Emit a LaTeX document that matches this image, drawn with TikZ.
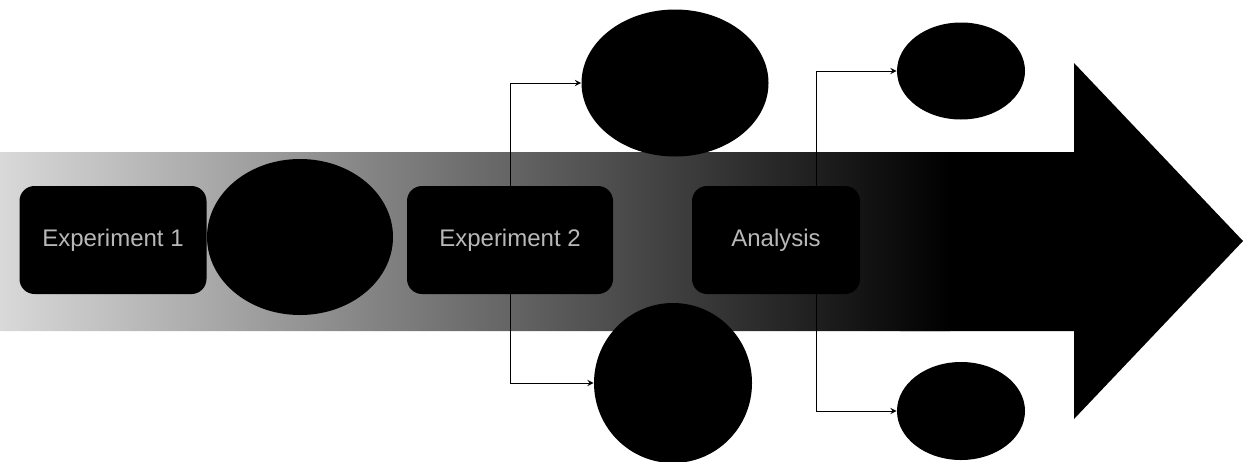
\documentclass[tikz,border=0pt]{standalone}
\usepackage{fontspec}
\setmainfont{Liberation Sans}
\usetikzlibrary{shapes.geometric}
\begin{document}
\begin{tikzpicture}[>=stealth, x=0.5pt, y=-0.5pt,
  stagebox/.style={fill=black, rounded corners=7.5pt, minimum width=#1, minimum height=54pt, inner sep=0pt, text=white!72!black, font=\fontsize{12}{14}\selectfont},
  blob/.style 2 args={fill=black, ellipse, minimum width=#1, minimum height=#2, inner sep=0pt}]
\useasboundingbox (0,0) rectangle (1245,461);
\begin{scope}
\clip (0,152)--(1074,152)--(1074,63)--(1243,241)--(1074,419)--(1074,331)--(0,331)--cycle;
\fill (900,40) rectangle (1245,440);
\path[left color=white!85!black, middle color=black!50, right color=black] (0,140) rectangle (950,343);
\end{scope}
\node[stagebox=93.5pt] (exp1) at (113,240) {Experiment 1};
\node[blob={93pt}{78pt}] (res1) at (300,237) {};
\node[stagebox=103pt] (exp2) at (510,240) {Experiment 2};
\node[stagebox=84pt] (ana) at (776,240) {Analysis};
\node[blob={93.5pt}{73.5pt}] (top1) at (675,83) {};
\node[blob={79pt}{80pt}] (bot1) at (673,383) {};
\node[blob={64pt}{48.5pt}] (top2) at (961,71) {};
\node[blob={64pt}{49pt}] (bot2) at (961,411) {};
\draw[->] (exp2.north) |- (top1.west);
\draw[->] (exp2.south) |- (bot1.west);
\draw[->] ([xshift=20pt]ana.north) |- (top2.west);
\draw[->] ([xshift=20pt]ana.south) |- (bot2.west);
\end{tikzpicture}
\end{document}
